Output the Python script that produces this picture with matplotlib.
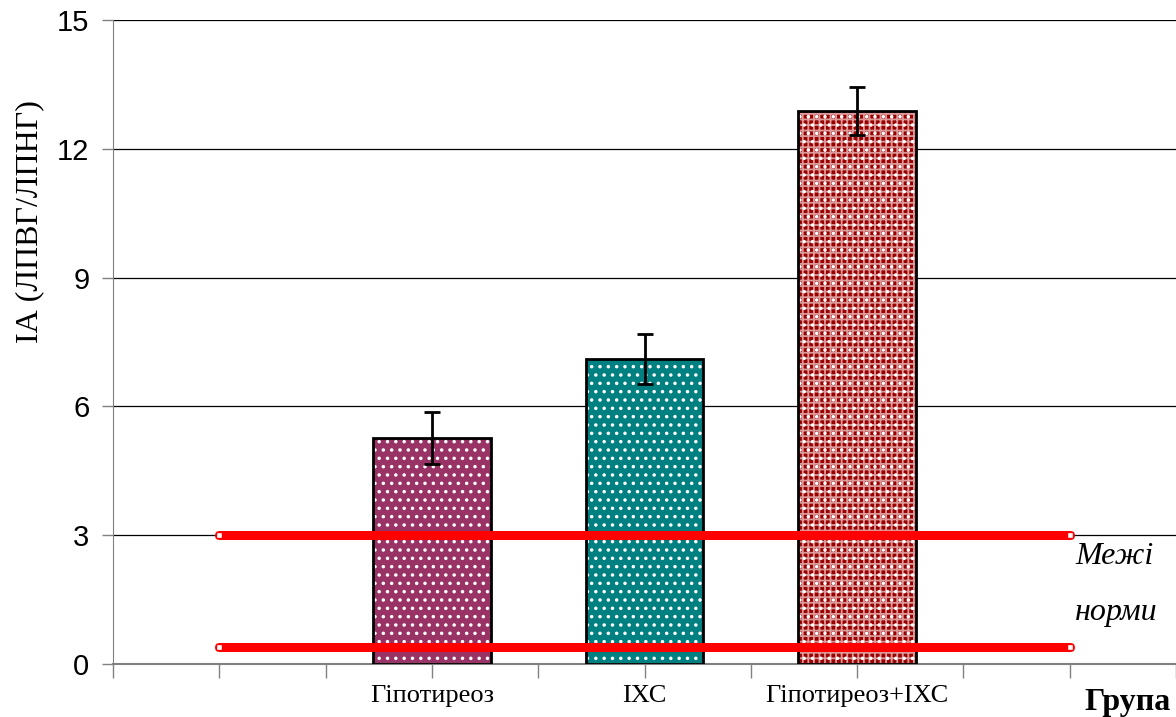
import matplotlib.pyplot as plt
import numpy as np

groups = ["Гіпотиреоз", "ІХС", "Гіпотиреоз+ІХС"]
group_pos = [1, 2, 3]
values = [5.26, 7.10, 12.88]
errors = [0.60, 0.58, 0.57]
norm_low = 0.4
norm_high = 3.0
norm_x = [0, 4]

face_colors = ["#993366", "#008080", "#990000"]
hatch_colors = ["white", "white", "#dc9a9a"]

plt.rcParams['hatch.linewidth'] = 1.3

fig = plt.figure(figsize=(11.76, 7.17), dpi=100)
ax = fig.add_axes([113 / 1176, 1 - 664 / 717, 1 - 113 / 1176, (664 - 20) / 717])

width = 0.555
for i, (x, v) in enumerate(zip(group_pos, values)):
    if i == 2:
        ax.bar(x, v, width, color=face_colors[i], edgecolor=hatch_colors[i],
               linewidth=0, hatch='+++', zorder=2)
        ax.bar(x, v, width, color='none', edgecolor='white',
               linewidth=0, hatch='..', zorder=2)
    else:
        ax.bar(x, v, width, color=face_colors[i], edgecolor=hatch_colors[i],
               linewidth=0, hatch='..', zorder=2)
    ax.bar(x, v, width, color='none', edgecolor='black', linewidth=2, zorder=3)

ax.errorbar(group_pos, values, yerr=errors, fmt='none', ecolor='black',
            elinewidth=2, capsize=6, capthick=2, zorder=4)

for y in (norm_high, norm_low):
    ax.plot(norm_x, [y, y], color='red', linewidth=6.5, solid_capstyle='round',
            marker='s', markersize=5, markerfacecolor='white',
            markeredgecolor='red', markeredgewidth=1, zorder=5)

ax.set_xlim(-0.5, 4.5)
ax.set_ylim(0, 15)
ax.set_yticks([0, 3, 6, 9, 12, 15])
ax.yaxis.grid(True, color='black', linewidth=0.9, zorder=0)
ax.set_axisbelow(True)
ax.tick_params(axis='y', labelsize=21, length=8, width=1, color='#808080', pad=9)
for lab in ax.get_yticklabels():
    lab.set_family('Liberation Sans')

ax.set_xticks(np.arange(-0.5, 4.51, 0.5))
ax.set_xticklabels([])
ax.tick_params(axis='x', length=10, width=1, color='#808080')

for s in ['top', 'right']:
    ax.spines[s].set_visible(False)
ax.spines['left'].set_color('#808080')
ax.spines['bottom'].set_color('#808080')
ax.spines['bottom'].set_linewidth(1.5)

for x, g in zip(group_pos, groups):
    ax.text(x, -0.5, g, ha='center', va='top', fontsize=19,
            family='Liberation Serif')
ax.text(4.27, -0.55, "Група", ha='center', va='top', fontsize=23,
        fontweight='bold', family='Liberation Serif')

ax.text(4.21, 2.5, "Межі", ha='center', va='center', fontsize=23,
        style='italic', family='Liberation Serif')
ax.text(4.22, 1.2, "норми", ha='center', va='center', fontsize=23,
        style='italic', family='Liberation Serif')

fig.text(30 / 1176, 1 - 222 / 717, "ІА (ЛПВГ/ЛПНГ)", rotation=90, ha='center',
         va='center', fontsize=23, family='Liberation Serif')

fig.savefig("out.png", dpi=100)
